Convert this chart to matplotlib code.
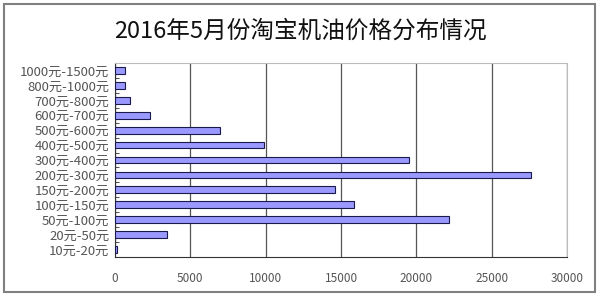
import matplotlib
matplotlib.use("Agg")
import matplotlib.pyplot as plt
from matplotlib.patches import Rectangle

plt.rcParams['font.family'] = ['Noto Sans CJK SC', 'DejaVu Sans']

# Price ranges (bottom to top) and listing counts
categories = [
    "10元-20元", "20元-50元", "50元-100元", "100元-150元", "150元-200元",
    "200元-300元", "300元-400元", "400元-500元", "500元-600元",
    "600元-700元", "700元-800元", "800元-1000元", "1000元-1500元",
]
counts = [155, 3440, 22190, 15890, 14630, 27620, 19490, 9890, 7000,
          2350, 975, 665, 665]
x_ticks = [0, 5000, 10000, 15000, 20000, 25000, 30000]

fig = plt.figure(figsize=(6, 3), dpi=100)
fig.patch.set_facecolor("white")

# outer frame
fig.patches.append(Rectangle((4 / 600, 8 / 300), 591 / 600, 288 / 300,
                             transform=fig.transFigure, fill=False,
                             edgecolor="#808080", linewidth=1.5))

fig.text(0.5, 0.895, "2016年5月份淘宝机油价格分布情况",
         ha="center", va="center", fontsize=17, color="#111111")

ax = fig.add_axes([115 / 600, 1 - 257 / 300, 452 / 600, 194 / 300])

y = list(range(len(categories)))
ax.barh(y, counts, height=0.45, color="#9999FF",
        edgecolor="#1a1a4d", linewidth=0.8, zorder=3)

ax.set_xlim(0, 30000)
ax.set_ylim(-0.5, len(categories) - 0.5)
ax.set_xticks(x_ticks)
ax.set_xticklabels([str(t) for t in x_ticks])
ax.set_yticks(y)
ax.set_yticklabels(categories)

ax.xaxis.grid(True, color="#555555", linewidth=0.9, zorder=0)
ax.tick_params(axis="x", length=0, labelsize=8.5, labelcolor="#555555", pad=11)
ax.tick_params(axis="y", length=0, labelsize=9.5, labelcolor="#555555", pad=4)

# small marks at the category boundaries
ax.set_yticks([i - 0.5 for i in range(len(categories) + 1)], minor=True)
ax.tick_params(axis="y", which="minor", length=3, direction="in", color="#333333")

for side in ["top", "right"]:
    ax.spines[side].set_color("#bbbbbb")
    ax.spines[side].set_linewidth(0.8)
ax.spines["left"].set_color("#333333")
ax.spines["bottom"].set_color("#333333")

plt.savefig("out.png", dpi=100)
